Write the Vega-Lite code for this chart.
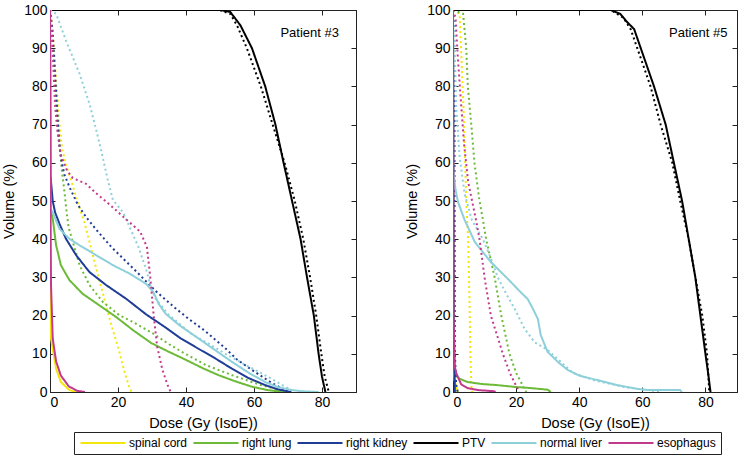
{
  "$schema": "https://vega.github.io/schema/vega-lite/v6.json",
  "padding": {"left": 1, "top": 2, "right": 2, "bottom": 2},
  "background": "white",
  "datasets": {
    "dvh": [
      {"patient": 3, "organ": "spinal cord", "plan": "solid", "dose": 0, "vol": 100},
      {"patient": 3, "organ": "spinal cord", "plan": "solid", "dose": 0.1, "vol": 18},
      {"patient": 3, "organ": "spinal cord", "plan": "solid", "dose": 0.3, "vol": 14},
      {"patient": 3, "organ": "spinal cord", "plan": "solid", "dose": 0.8, "vol": 11.3},
      {"patient": 3, "organ": "spinal cord", "plan": "solid", "dose": 1.8, "vol": 6.1},
      {"patient": 3, "organ": "spinal cord", "plan": "solid", "dose": 3.2, "vol": 2.6},
      {"patient": 3, "organ": "spinal cord", "plan": "solid", "dose": 5.7, "vol": 0.5},
      {"patient": 3, "organ": "spinal cord", "plan": "solid", "dose": 7.7, "vol": 0},
      {"patient": 3, "organ": "spinal cord", "plan": "dotted", "dose": 0, "vol": 100},
      {"patient": 3, "organ": "spinal cord", "plan": "dotted", "dose": 0.5, "vol": 97},
      {"patient": 3, "organ": "spinal cord", "plan": "dotted", "dose": 1, "vol": 92},
      {"patient": 3, "organ": "spinal cord", "plan": "dotted", "dose": 1.5, "vol": 85},
      {"patient": 3, "organ": "spinal cord", "plan": "dotted", "dose": 2.2, "vol": 77},
      {"patient": 3, "organ": "spinal cord", "plan": "dotted", "dose": 2.8, "vol": 70},
      {"patient": 3, "organ": "spinal cord", "plan": "dotted", "dose": 3.5, "vol": 64},
      {"patient": 3, "organ": "spinal cord", "plan": "dotted", "dose": 4.7, "vol": 59.5},
      {"patient": 3, "organ": "spinal cord", "plan": "dotted", "dose": 6.2, "vol": 55.5},
      {"patient": 3, "organ": "spinal cord", "plan": "dotted", "dose": 8, "vol": 50},
      {"patient": 3, "organ": "spinal cord", "plan": "dotted", "dose": 10.1, "vol": 44.5},
      {"patient": 3, "organ": "spinal cord", "plan": "dotted", "dose": 12, "vol": 38},
      {"patient": 3, "organ": "spinal cord", "plan": "dotted", "dose": 13.6, "vol": 32.3},
      {"patient": 3, "organ": "spinal cord", "plan": "dotted", "dose": 15.5, "vol": 26},
      {"patient": 3, "organ": "spinal cord", "plan": "dotted", "dose": 17.5, "vol": 19.2},
      {"patient": 3, "organ": "spinal cord", "plan": "dotted", "dose": 20.4, "vol": 10.5},
      {"patient": 3, "organ": "spinal cord", "plan": "dotted", "dose": 22, "vol": 5},
      {"patient": 3, "organ": "spinal cord", "plan": "dotted", "dose": 23.4, "vol": 1},
      {"patient": 3, "organ": "spinal cord", "plan": "dotted", "dose": 24, "vol": 0},

      {"patient": 3, "organ": "right lung", "plan": "solid", "dose": 0, "vol": 100},
      {"patient": 3, "organ": "right lung", "plan": "solid", "dose": 0.1, "vol": 48},
      {"patient": 3, "organ": "right lung", "plan": "solid", "dose": 0.8, "vol": 45.4},
      {"patient": 3, "organ": "right lung", "plan": "solid", "dose": 1.8, "vol": 38.4},
      {"patient": 3, "organ": "right lung", "plan": "solid", "dose": 3.2, "vol": 33.2},
      {"patient": 3, "organ": "right lung", "plan": "solid", "dose": 5.7, "vol": 29.3},
      {"patient": 3, "organ": "right lung", "plan": "solid", "dose": 9.6, "vol": 25.7},
      {"patient": 3, "organ": "right lung", "plan": "solid", "dose": 14.5, "vol": 22.7},
      {"patient": 3, "organ": "right lung", "plan": "solid", "dose": 19.5, "vol": 19.6},
      {"patient": 3, "organ": "right lung", "plan": "solid", "dose": 24.4, "vol": 16.2},
      {"patient": 3, "organ": "right lung", "plan": "solid", "dose": 29.8, "vol": 12.8},
      {"patient": 3, "organ": "right lung", "plan": "solid", "dose": 35, "vol": 10.5},
      {"patient": 3, "organ": "right lung", "plan": "solid", "dose": 40, "vol": 8.4},
      {"patient": 3, "organ": "right lung", "plan": "solid", "dose": 45, "vol": 6.2},
      {"patient": 3, "organ": "right lung", "plan": "solid", "dose": 49.6, "vol": 4.4},
      {"patient": 3, "organ": "right lung", "plan": "solid", "dose": 54.5, "vol": 2.8},
      {"patient": 3, "organ": "right lung", "plan": "solid", "dose": 59.3, "vol": 1.4},
      {"patient": 3, "organ": "right lung", "plan": "solid", "dose": 64, "vol": 0.5},
      {"patient": 3, "organ": "right lung", "plan": "solid", "dose": 69, "vol": 0},
      {"patient": 3, "organ": "right lung", "plan": "dotted", "dose": 0, "vol": 100},
      {"patient": 3, "organ": "right lung", "plan": "dotted", "dose": 0.5, "vol": 95},
      {"patient": 3, "organ": "right lung", "plan": "dotted", "dose": 1, "vol": 88},
      {"patient": 3, "organ": "right lung", "plan": "dotted", "dose": 1.6, "vol": 80},
      {"patient": 3, "organ": "right lung", "plan": "dotted", "dose": 2.2, "vol": 72},
      {"patient": 3, "organ": "right lung", "plan": "dotted", "dose": 2.8, "vol": 65},
      {"patient": 3, "organ": "right lung", "plan": "dotted", "dose": 3.5, "vol": 58},
      {"patient": 3, "organ": "right lung", "plan": "dotted", "dose": 4.3, "vol": 52},
      {"patient": 3, "organ": "right lung", "plan": "dotted", "dose": 4.9, "vol": 47},
      {"patient": 3, "organ": "right lung", "plan": "dotted", "dose": 5.5, "vol": 43},
      {"patient": 3, "organ": "right lung", "plan": "dotted", "dose": 6.7, "vol": 39.3},
      {"patient": 3, "organ": "right lung", "plan": "dotted", "dose": 8.7, "vol": 33.2},
      {"patient": 3, "organ": "right lung", "plan": "dotted", "dose": 11.6, "vol": 28},
      {"patient": 3, "organ": "right lung", "plan": "dotted", "dose": 15.5, "vol": 23.6},
      {"patient": 3, "organ": "right lung", "plan": "dotted", "dose": 20.4, "vol": 20.1},
      {"patient": 3, "organ": "right lung", "plan": "dotted", "dose": 24, "vol": 18.5},
      {"patient": 3, "organ": "right lung", "plan": "dotted", "dose": 30, "vol": 15.5},
      {"patient": 3, "organ": "right lung", "plan": "dotted", "dose": 35, "vol": 12.5},
      {"patient": 3, "organ": "right lung", "plan": "dotted", "dose": 39.8, "vol": 10},
      {"patient": 3, "organ": "right lung", "plan": "dotted", "dose": 46, "vol": 7},
      {"patient": 3, "organ": "right lung", "plan": "dotted", "dose": 53.6, "vol": 4.4},
      {"patient": 3, "organ": "right lung", "plan": "dotted", "dose": 62, "vol": 1.8},
      {"patient": 3, "organ": "right lung", "plan": "dotted", "dose": 70, "vol": 0},

      {"patient": 3, "organ": "right kidney", "plan": "solid", "dose": 0, "vol": 100},
      {"patient": 3, "organ": "right kidney", "plan": "solid", "dose": 0.1, "vol": 57},
      {"patient": 3, "organ": "right kidney", "plan": "solid", "dose": 0.8, "vol": 50},
      {"patient": 3, "organ": "right kidney", "plan": "solid", "dose": 1.5, "vol": 47},
      {"patient": 3, "organ": "right kidney", "plan": "solid", "dose": 2.8, "vol": 44},
      {"patient": 3, "organ": "right kidney", "plan": "solid", "dose": 4.7, "vol": 40.1},
      {"patient": 3, "organ": "right kidney", "plan": "solid", "dose": 7.7, "vol": 35.8},
      {"patient": 3, "organ": "right kidney", "plan": "solid", "dose": 11.6, "vol": 31.4},
      {"patient": 3, "organ": "right kidney", "plan": "solid", "dose": 16.5, "vol": 28},
      {"patient": 3, "organ": "right kidney", "plan": "solid", "dose": 22.4, "vol": 24.4},
      {"patient": 3, "organ": "right kidney", "plan": "solid", "dose": 28.3, "vol": 20.3},
      {"patient": 3, "organ": "right kidney", "plan": "solid", "dose": 33.8, "vol": 17},
      {"patient": 3, "organ": "right kidney", "plan": "solid", "dose": 38.5, "vol": 14},
      {"patient": 3, "organ": "right kidney", "plan": "solid", "dose": 43.7, "vol": 11.3},
      {"patient": 3, "organ": "right kidney", "plan": "solid", "dose": 48.6, "vol": 8.8},
      {"patient": 3, "organ": "right kidney", "plan": "solid", "dose": 53.5, "vol": 6.1},
      {"patient": 3, "organ": "right kidney", "plan": "solid", "dose": 58.5, "vol": 3.6},
      {"patient": 3, "organ": "right kidney", "plan": "solid", "dose": 63.3, "vol": 1.8},
      {"patient": 3, "organ": "right kidney", "plan": "solid", "dose": 67, "vol": 0.7},
      {"patient": 3, "organ": "right kidney", "plan": "solid", "dose": 71, "vol": 0},
      {"patient": 3, "organ": "right kidney", "plan": "dotted", "dose": 0, "vol": 100},
      {"patient": 3, "organ": "right kidney", "plan": "dotted", "dose": 0.7, "vol": 95},
      {"patient": 3, "organ": "right kidney", "plan": "dotted", "dose": 1.2, "vol": 88},
      {"patient": 3, "organ": "right kidney", "plan": "dotted", "dose": 1.7, "vol": 80},
      {"patient": 3, "organ": "right kidney", "plan": "dotted", "dose": 2.2, "vol": 72},
      {"patient": 3, "organ": "right kidney", "plan": "dotted", "dose": 2.8, "vol": 64},
      {"patient": 3, "organ": "right kidney", "plan": "dotted", "dose": 3.5, "vol": 60},
      {"patient": 3, "organ": "right kidney", "plan": "dotted", "dose": 4.2, "vol": 57},
      {"patient": 3, "organ": "right kidney", "plan": "dotted", "dose": 5.7, "vol": 53.7},
      {"patient": 3, "organ": "right kidney", "plan": "dotted", "dose": 8.2, "vol": 49},
      {"patient": 3, "organ": "right kidney", "plan": "dotted", "dose": 10.6, "vol": 45.8},
      {"patient": 3, "organ": "right kidney", "plan": "dotted", "dose": 13.6, "vol": 42.5},
      {"patient": 3, "organ": "right kidney", "plan": "dotted", "dose": 18, "vol": 38},
      {"patient": 3, "organ": "right kidney", "plan": "dotted", "dose": 22, "vol": 34.5},
      {"patient": 3, "organ": "right kidney", "plan": "dotted", "dose": 26, "vol": 31},
      {"patient": 3, "organ": "right kidney", "plan": "dotted", "dose": 31, "vol": 26.5},
      {"patient": 3, "organ": "right kidney", "plan": "dotted", "dose": 36.8, "vol": 22},
      {"patient": 3, "organ": "right kidney", "plan": "dotted", "dose": 41, "vol": 19},
      {"patient": 3, "organ": "right kidney", "plan": "dotted", "dose": 45.6, "vol": 16},
      {"patient": 3, "organ": "right kidney", "plan": "dotted", "dose": 51.5, "vol": 11.5},
      {"patient": 3, "organ": "right kidney", "plan": "dotted", "dose": 55, "vol": 8.5},
      {"patient": 3, "organ": "right kidney", "plan": "dotted", "dose": 59, "vol": 6},
      {"patient": 3, "organ": "right kidney", "plan": "dotted", "dose": 65, "vol": 2.5},
      {"patient": 3, "organ": "right kidney", "plan": "dotted", "dose": 70, "vol": 0},

      {"patient": 3, "organ": "PTV", "plan": "solid", "dose": 0, "vol": 100},
      {"patient": 3, "organ": "PTV", "plan": "solid", "dose": 50, "vol": 100},
      {"patient": 3, "organ": "PTV", "plan": "solid", "dose": 53, "vol": 99.5},
      {"patient": 3, "organ": "PTV", "plan": "solid", "dose": 56, "vol": 96},
      {"patient": 3, "organ": "PTV", "plan": "solid", "dose": 59.4, "vol": 90},
      {"patient": 3, "organ": "PTV", "plan": "solid", "dose": 63.3, "vol": 80},
      {"patient": 3, "organ": "PTV", "plan": "solid", "dose": 66.3, "vol": 70},
      {"patient": 3, "organ": "PTV", "plan": "solid", "dose": 68.7, "vol": 60},
      {"patient": 3, "organ": "PTV", "plan": "solid", "dose": 71.2, "vol": 50},
      {"patient": 3, "organ": "PTV", "plan": "solid", "dose": 73.7, "vol": 40},
      {"patient": 3, "organ": "PTV", "plan": "solid", "dose": 75.6, "vol": 30},
      {"patient": 3, "organ": "PTV", "plan": "solid", "dose": 77.6, "vol": 20},
      {"patient": 3, "organ": "PTV", "plan": "solid", "dose": 79, "vol": 10},
      {"patient": 3, "organ": "PTV", "plan": "solid", "dose": 80, "vol": 4},
      {"patient": 3, "organ": "PTV", "plan": "solid", "dose": 81, "vol": 0},
      {"patient": 3, "organ": "PTV", "plan": "dotted", "dose": 0, "vol": 100},
      {"patient": 3, "organ": "PTV", "plan": "dotted", "dose": 50, "vol": 100},
      {"patient": 3, "organ": "PTV", "plan": "dotted", "dose": 53, "vol": 99},
      {"patient": 3, "organ": "PTV", "plan": "dotted", "dose": 55, "vol": 96},
      {"patient": 3, "organ": "PTV", "plan": "dotted", "dose": 57.9, "vol": 90},
      {"patient": 3, "organ": "PTV", "plan": "dotted", "dose": 62, "vol": 80},
      {"patient": 3, "organ": "PTV", "plan": "dotted", "dose": 65.5, "vol": 70},
      {"patient": 3, "organ": "PTV", "plan": "dotted", "dose": 69, "vol": 60},
      {"patient": 3, "organ": "PTV", "plan": "dotted", "dose": 72, "vol": 50},
      {"patient": 3, "organ": "PTV", "plan": "dotted", "dose": 74.5, "vol": 40},
      {"patient": 3, "organ": "PTV", "plan": "dotted", "dose": 76.5, "vol": 30},
      {"patient": 3, "organ": "PTV", "plan": "dotted", "dose": 78.3, "vol": 20},
      {"patient": 3, "organ": "PTV", "plan": "dotted", "dose": 79.8, "vol": 10},
      {"patient": 3, "organ": "PTV", "plan": "dotted", "dose": 80.8, "vol": 4},
      {"patient": 3, "organ": "PTV", "plan": "dotted", "dose": 82, "vol": 0},

      {"patient": 3, "organ": "normal liver", "plan": "solid", "dose": 0, "vol": 100},
      {"patient": 3, "organ": "normal liver", "plan": "solid", "dose": 0.1, "vol": 48},
      {"patient": 3, "organ": "normal liver", "plan": "solid", "dose": 0.8, "vol": 47},
      {"patient": 3, "organ": "normal liver", "plan": "solid", "dose": 2.8, "vol": 42.7},
      {"patient": 3, "organ": "normal liver", "plan": "solid", "dose": 5.7, "vol": 40.1},
      {"patient": 3, "organ": "normal liver", "plan": "solid", "dose": 8.7, "vol": 38.4},
      {"patient": 3, "organ": "normal liver", "plan": "solid", "dose": 13.6, "vol": 35.8},
      {"patient": 3, "organ": "normal liver", "plan": "solid", "dose": 18.5, "vol": 33.2},
      {"patient": 3, "organ": "normal liver", "plan": "solid", "dose": 23.4, "vol": 31},
      {"patient": 3, "organ": "normal liver", "plan": "solid", "dose": 28.3, "vol": 28.3},
      {"patient": 3, "organ": "normal liver", "plan": "solid", "dose": 30.5, "vol": 26},
      {"patient": 3, "organ": "normal liver", "plan": "solid", "dose": 32, "vol": 23},
      {"patient": 3, "organ": "normal liver", "plan": "solid", "dose": 34, "vol": 20.5},
      {"patient": 3, "organ": "normal liver", "plan": "solid", "dose": 38, "vol": 17.5},
      {"patient": 3, "organ": "normal liver", "plan": "solid", "dose": 43.7, "vol": 14},
      {"patient": 3, "organ": "normal liver", "plan": "solid", "dose": 48.5, "vol": 11},
      {"patient": 3, "organ": "normal liver", "plan": "solid", "dose": 53.5, "vol": 7.9},
      {"patient": 3, "organ": "normal liver", "plan": "solid", "dose": 58.5, "vol": 5},
      {"patient": 3, "organ": "normal liver", "plan": "solid", "dose": 63.3, "vol": 2.6},
      {"patient": 3, "organ": "normal liver", "plan": "solid", "dose": 67, "vol": 1.3},
      {"patient": 3, "organ": "normal liver", "plan": "solid", "dose": 71.2, "vol": 0.5},
      {"patient": 3, "organ": "normal liver", "plan": "solid", "dose": 74, "vol": 0.2},
      {"patient": 3, "organ": "normal liver", "plan": "solid", "dose": 79, "vol": 0},
      {"patient": 3, "organ": "normal liver", "plan": "dotted", "dose": 0, "vol": 100},
      {"patient": 3, "organ": "normal liver", "plan": "dotted", "dose": 1.8, "vol": 99},
      {"patient": 3, "organ": "normal liver", "plan": "dotted", "dose": 4.7, "vol": 92},
      {"patient": 3, "organ": "normal liver", "plan": "dotted", "dose": 8.7, "vol": 83.3},
      {"patient": 3, "organ": "normal liver", "plan": "dotted", "dose": 11.6, "vol": 75.5},
      {"patient": 3, "organ": "normal liver", "plan": "dotted", "dose": 13.6, "vol": 68.6},
      {"patient": 3, "organ": "normal liver", "plan": "dotted", "dose": 15, "vol": 63.4},
      {"patient": 3, "organ": "normal liver", "plan": "dotted", "dose": 17, "vol": 55.5},
      {"patient": 3, "organ": "normal liver", "plan": "dotted", "dose": 18.5, "vol": 50.3},
      {"patient": 3, "organ": "normal liver", "plan": "dotted", "dose": 21.5, "vol": 47},
      {"patient": 3, "organ": "normal liver", "plan": "dotted", "dose": 24, "vol": 42},
      {"patient": 3, "organ": "normal liver", "plan": "dotted", "dose": 26, "vol": 38},
      {"patient": 3, "organ": "normal liver", "plan": "dotted", "dose": 28.3, "vol": 32},
      {"patient": 3, "organ": "normal liver", "plan": "dotted", "dose": 29.5, "vol": 28},
      {"patient": 3, "organ": "normal liver", "plan": "dotted", "dose": 31, "vol": 24.5},
      {"patient": 3, "organ": "normal liver", "plan": "dotted", "dose": 34.8, "vol": 20.3},
      {"patient": 3, "organ": "normal liver", "plan": "dotted", "dose": 41.6, "vol": 15.2},
      {"patient": 3, "organ": "normal liver", "plan": "dotted", "dose": 46.5, "vol": 12.7},
      {"patient": 3, "organ": "normal liver", "plan": "dotted", "dose": 51.6, "vol": 10},
      {"patient": 3, "organ": "normal liver", "plan": "dotted", "dose": 57, "vol": 7.3},
      {"patient": 3, "organ": "normal liver", "plan": "dotted", "dose": 62, "vol": 5},
      {"patient": 3, "organ": "normal liver", "plan": "dotted", "dose": 67, "vol": 2.5},
      {"patient": 3, "organ": "normal liver", "plan": "dotted", "dose": 72, "vol": 0},

      {"patient": 3, "organ": "esophagus", "plan": "solid", "dose": 0, "vol": 100},
      {"patient": 3, "organ": "esophagus", "plan": "solid", "dose": 0.2, "vol": 40},
      {"patient": 3, "organ": "esophagus", "plan": "solid", "dose": 0.3, "vol": 28},
      {"patient": 3, "organ": "esophagus", "plan": "solid", "dose": 0.8, "vol": 14},
      {"patient": 3, "organ": "esophagus", "plan": "solid", "dose": 1.8, "vol": 8},
      {"patient": 3, "organ": "esophagus", "plan": "solid", "dose": 3.2, "vol": 4.3},
      {"patient": 3, "organ": "esophagus", "plan": "solid", "dose": 5.5, "vol": 1.5},
      {"patient": 3, "organ": "esophagus", "plan": "solid", "dose": 8, "vol": 0.3},
      {"patient": 3, "organ": "esophagus", "plan": "solid", "dose": 10.3, "vol": 0},
      {"patient": 3, "organ": "esophagus", "plan": "dotted", "dose": 0, "vol": 100},
      {"patient": 3, "organ": "esophagus", "plan": "dotted", "dose": 0.5, "vol": 95},
      {"patient": 3, "organ": "esophagus", "plan": "dotted", "dose": 1, "vol": 85},
      {"patient": 3, "organ": "esophagus", "plan": "dotted", "dose": 1.5, "vol": 75},
      {"patient": 3, "organ": "esophagus", "plan": "dotted", "dose": 2.2, "vol": 68},
      {"patient": 3, "organ": "esophagus", "plan": "dotted", "dose": 3.2, "vol": 62},
      {"patient": 3, "organ": "esophagus", "plan": "dotted", "dose": 5, "vol": 58},
      {"patient": 3, "organ": "esophagus", "plan": "dotted", "dose": 6.7, "vol": 56},
      {"patient": 3, "organ": "esophagus", "plan": "dotted", "dose": 10.6, "vol": 54.5},
      {"patient": 3, "organ": "esophagus", "plan": "dotted", "dose": 13.6, "vol": 52},
      {"patient": 3, "organ": "esophagus", "plan": "dotted", "dose": 17, "vol": 49.5},
      {"patient": 3, "organ": "esophagus", "plan": "dotted", "dose": 22, "vol": 45.5},
      {"patient": 3, "organ": "esophagus", "plan": "dotted", "dose": 26.5, "vol": 42},
      {"patient": 3, "organ": "esophagus", "plan": "dotted", "dose": 28.5, "vol": 38},
      {"patient": 3, "organ": "esophagus", "plan": "dotted", "dose": 29.5, "vol": 30},
      {"patient": 3, "organ": "esophagus", "plan": "dotted", "dose": 30.5, "vol": 20},
      {"patient": 3, "organ": "esophagus", "plan": "dotted", "dose": 31.5, "vol": 12},
      {"patient": 3, "organ": "esophagus", "plan": "dotted", "dose": 33, "vol": 6},
      {"patient": 3, "organ": "esophagus", "plan": "dotted", "dose": 34.5, "vol": 2},
      {"patient": 3, "organ": "esophagus", "plan": "dotted", "dose": 35.5, "vol": 0},

      {"patient": 5, "organ": "spinal cord", "plan": "solid", "dose": 0, "vol": 100},
      {"patient": 5, "organ": "spinal cord", "plan": "solid", "dose": 0.1, "vol": 8},
      {"patient": 5, "organ": "spinal cord", "plan": "solid", "dose": 0.5, "vol": 3},
      {"patient": 5, "organ": "spinal cord", "plan": "solid", "dose": 1.5, "vol": 0},
      {"patient": 5, "organ": "spinal cord", "plan": "dotted", "dose": 0, "vol": 100},
      {"patient": 5, "organ": "spinal cord", "plan": "dotted", "dose": 2.1, "vol": 99},
      {"patient": 5, "organ": "spinal cord", "plan": "dotted", "dose": 2.8, "vol": 85},
      {"patient": 5, "organ": "spinal cord", "plan": "dotted", "dose": 3.3, "vol": 75},
      {"patient": 5, "organ": "spinal cord", "plan": "dotted", "dose": 3.8, "vol": 62},
      {"patient": 5, "organ": "spinal cord", "plan": "dotted", "dose": 4.2, "vol": 50},
      {"patient": 5, "organ": "spinal cord", "plan": "dotted", "dose": 4.8, "vol": 40},
      {"patient": 5, "organ": "spinal cord", "plan": "dotted", "dose": 5.2, "vol": 25},
      {"patient": 5, "organ": "spinal cord", "plan": "dotted", "dose": 5.5, "vol": 10},
      {"patient": 5, "organ": "spinal cord", "plan": "dotted", "dose": 5.8, "vol": 2},
      {"patient": 5, "organ": "spinal cord", "plan": "dotted", "dose": 6, "vol": 0},

      {"patient": 5, "organ": "right lung", "plan": "solid", "dose": 0, "vol": 100},
      {"patient": 5, "organ": "right lung", "plan": "solid", "dose": 0.2, "vol": 6},
      {"patient": 5, "organ": "right lung", "plan": "solid", "dose": 0.6, "vol": 4.5},
      {"patient": 5, "organ": "right lung", "plan": "solid", "dose": 2, "vol": 3.5},
      {"patient": 5, "organ": "right lung", "plan": "solid", "dose": 4.7, "vol": 2.6},
      {"patient": 5, "organ": "right lung", "plan": "solid", "dose": 9, "vol": 2.1},
      {"patient": 5, "organ": "right lung", "plan": "solid", "dose": 14, "vol": 1.8},
      {"patient": 5, "organ": "right lung", "plan": "solid", "dose": 20, "vol": 1.3},
      {"patient": 5, "organ": "right lung", "plan": "solid", "dose": 25, "vol": 1},
      {"patient": 5, "organ": "right lung", "plan": "solid", "dose": 30, "vol": 0.6},
      {"patient": 5, "organ": "right lung", "plan": "solid", "dose": 31, "vol": 0},
      {"patient": 5, "organ": "right lung", "plan": "dotted", "dose": 0, "vol": 100},
      {"patient": 5, "organ": "right lung", "plan": "dotted", "dose": 3.2, "vol": 99},
      {"patient": 5, "organ": "right lung", "plan": "dotted", "dose": 4.2, "vol": 90},
      {"patient": 5, "organ": "right lung", "plan": "dotted", "dose": 4.7, "vol": 80},
      {"patient": 5, "organ": "right lung", "plan": "dotted", "dose": 5.8, "vol": 70},
      {"patient": 5, "organ": "right lung", "plan": "dotted", "dose": 6.8, "vol": 60},
      {"patient": 5, "organ": "right lung", "plan": "dotted", "dose": 8.4, "vol": 50},
      {"patient": 5, "organ": "right lung", "plan": "dotted", "dose": 9.5, "vol": 45},
      {"patient": 5, "organ": "right lung", "plan": "dotted", "dose": 10.5, "vol": 40},
      {"patient": 5, "organ": "right lung", "plan": "dotted", "dose": 13.2, "vol": 30},
      {"patient": 5, "organ": "right lung", "plan": "dotted", "dose": 15.3, "vol": 20},
      {"patient": 5, "organ": "right lung", "plan": "dotted", "dose": 17.9, "vol": 10},
      {"patient": 5, "organ": "right lung", "plan": "dotted", "dose": 20, "vol": 5},
      {"patient": 5, "organ": "right lung", "plan": "dotted", "dose": 23.2, "vol": 0},

      {"patient": 5, "organ": "right kidney", "plan": "solid", "dose": 0, "vol": 100},
      {"patient": 5, "organ": "right kidney", "plan": "solid", "dose": 0.2, "vol": 20},
      {"patient": 5, "organ": "right kidney", "plan": "solid", "dose": 0.6, "vol": 0},
      {"patient": 5, "organ": "right kidney", "plan": "dotted", "dose": 0, "vol": 100},
      {"patient": 5, "organ": "right kidney", "plan": "dotted", "dose": 0.4, "vol": 95},
      {"patient": 5, "organ": "right kidney", "plan": "dotted", "dose": 0.5, "vol": 50},
      {"patient": 5, "organ": "right kidney", "plan": "dotted", "dose": 0.6, "vol": 10},
      {"patient": 5, "organ": "right kidney", "plan": "dotted", "dose": 1, "vol": 2},
      {"patient": 5, "organ": "right kidney", "plan": "dotted", "dose": 1.5, "vol": 0},

      {"patient": 5, "organ": "PTV", "plan": "solid", "dose": 0, "vol": 100},
      {"patient": 5, "organ": "PTV", "plan": "solid", "dose": 50, "vol": 100},
      {"patient": 5, "organ": "PTV", "plan": "solid", "dose": 53, "vol": 99},
      {"patient": 5, "organ": "PTV", "plan": "solid", "dose": 55, "vol": 97},
      {"patient": 5, "organ": "PTV", "plan": "solid", "dose": 57.4, "vol": 95},
      {"patient": 5, "organ": "PTV", "plan": "solid", "dose": 59.5, "vol": 90},
      {"patient": 5, "organ": "PTV", "plan": "solid", "dose": 63.7, "vol": 80},
      {"patient": 5, "organ": "PTV", "plan": "solid", "dose": 67.4, "vol": 70},
      {"patient": 5, "organ": "PTV", "plan": "solid", "dose": 70, "vol": 60},
      {"patient": 5, "organ": "PTV", "plan": "solid", "dose": 72.6, "vol": 50},
      {"patient": 5, "organ": "PTV", "plan": "solid", "dose": 74.7, "vol": 40},
      {"patient": 5, "organ": "PTV", "plan": "solid", "dose": 76.8, "vol": 30},
      {"patient": 5, "organ": "PTV", "plan": "solid", "dose": 78.4, "vol": 20},
      {"patient": 5, "organ": "PTV", "plan": "solid", "dose": 80, "vol": 10},
      {"patient": 5, "organ": "PTV", "plan": "solid", "dose": 81, "vol": 4},
      {"patient": 5, "organ": "PTV", "plan": "solid", "dose": 81.6, "vol": 0},
      {"patient": 5, "organ": "PTV", "plan": "dotted", "dose": 0, "vol": 100},
      {"patient": 5, "organ": "PTV", "plan": "dotted", "dose": 50, "vol": 100},
      {"patient": 5, "organ": "PTV", "plan": "dotted", "dose": 54, "vol": 98},
      {"patient": 5, "organ": "PTV", "plan": "dotted", "dose": 56.3, "vol": 95},
      {"patient": 5, "organ": "PTV", "plan": "dotted", "dose": 58.4, "vol": 90},
      {"patient": 5, "organ": "PTV", "plan": "dotted", "dose": 62.6, "vol": 80},
      {"patient": 5, "organ": "PTV", "plan": "dotted", "dose": 65.8, "vol": 70},
      {"patient": 5, "organ": "PTV", "plan": "dotted", "dose": 69.5, "vol": 60},
      {"patient": 5, "organ": "PTV", "plan": "dotted", "dose": 72, "vol": 50},
      {"patient": 5, "organ": "PTV", "plan": "dotted", "dose": 74.7, "vol": 40},
      {"patient": 5, "organ": "PTV", "plan": "dotted", "dose": 76.8, "vol": 30},
      {"patient": 5, "organ": "PTV", "plan": "dotted", "dose": 79, "vol": 20},
      {"patient": 5, "organ": "PTV", "plan": "dotted", "dose": 80.5, "vol": 10},
      {"patient": 5, "organ": "PTV", "plan": "dotted", "dose": 81, "vol": 3},
      {"patient": 5, "organ": "PTV", "plan": "dotted", "dose": 81.2, "vol": 0},

      {"patient": 5, "organ": "normal liver", "plan": "solid", "dose": 0, "vol": 100},
      {"patient": 5, "organ": "normal liver", "plan": "solid", "dose": 0.1, "vol": 58},
      {"patient": 5, "organ": "normal liver", "plan": "solid", "dose": 0.8, "vol": 53},
      {"patient": 5, "organ": "normal liver", "plan": "solid", "dose": 1.6, "vol": 49.7},
      {"patient": 5, "organ": "normal liver", "plan": "solid", "dose": 3.7, "vol": 45},
      {"patient": 5, "organ": "normal liver", "plan": "solid", "dose": 6.9, "vol": 39.3},
      {"patient": 5, "organ": "normal liver", "plan": "solid", "dose": 12, "vol": 34},
      {"patient": 5, "organ": "normal liver", "plan": "solid", "dose": 17.4, "vol": 29.6},
      {"patient": 5, "organ": "normal liver", "plan": "solid", "dose": 21, "vol": 26.5},
      {"patient": 5, "organ": "normal liver", "plan": "solid", "dose": 23.7, "vol": 24.3},
      {"patient": 5, "organ": "normal liver", "plan": "solid", "dose": 25.5, "vol": 21.5},
      {"patient": 5, "organ": "normal liver", "plan": "solid", "dose": 26.9, "vol": 19.1},
      {"patient": 5, "organ": "normal liver", "plan": "solid", "dose": 27.8, "vol": 14.9},
      {"patient": 5, "organ": "normal liver", "plan": "solid", "dose": 30, "vol": 10.5},
      {"patient": 5, "organ": "normal liver", "plan": "solid", "dose": 33.2, "vol": 7.9},
      {"patient": 5, "organ": "normal liver", "plan": "solid", "dose": 36.3, "vol": 5.8},
      {"patient": 5, "organ": "normal liver", "plan": "solid", "dose": 40, "vol": 4.3},
      {"patient": 5, "organ": "normal liver", "plan": "solid", "dose": 45.8, "vol": 3.1},
      {"patient": 5, "organ": "normal liver", "plan": "solid", "dose": 52, "vol": 1.8},
      {"patient": 5, "organ": "normal liver", "plan": "solid", "dose": 58.5, "vol": 0.8},
      {"patient": 5, "organ": "normal liver", "plan": "solid", "dose": 62, "vol": 0.5},
      {"patient": 5, "organ": "normal liver", "plan": "solid", "dose": 72, "vol": 0.5},
      {"patient": 5, "organ": "normal liver", "plan": "solid", "dose": 72.5, "vol": 0},
      {"patient": 5, "organ": "normal liver", "plan": "dotted", "dose": 0, "vol": 100},
      {"patient": 5, "organ": "normal liver", "plan": "dotted", "dose": 0.3, "vol": 95},
      {"patient": 5, "organ": "normal liver", "plan": "dotted", "dose": 0.7, "vol": 85},
      {"patient": 5, "organ": "normal liver", "plan": "dotted", "dose": 1, "vol": 75},
      {"patient": 5, "organ": "normal liver", "plan": "dotted", "dose": 2.1, "vol": 61.5},
      {"patient": 5, "organ": "normal liver", "plan": "dotted", "dose": 3.7, "vol": 51.8},
      {"patient": 5, "organ": "normal liver", "plan": "dotted", "dose": 6, "vol": 45},
      {"patient": 5, "organ": "normal liver", "plan": "dotted", "dose": 9.5, "vol": 40},
      {"patient": 5, "organ": "normal liver", "plan": "dotted", "dose": 12, "vol": 35},
      {"patient": 5, "organ": "normal liver", "plan": "dotted", "dose": 14.2, "vol": 30},
      {"patient": 5, "organ": "normal liver", "plan": "dotted", "dose": 17, "vol": 25.5},
      {"patient": 5, "organ": "normal liver", "plan": "dotted", "dose": 19.6, "vol": 21.7},
      {"patient": 5, "organ": "normal liver", "plan": "dotted", "dose": 22.7, "vol": 16.5},
      {"patient": 5, "organ": "normal liver", "plan": "dotted", "dose": 25.9, "vol": 13},
      {"patient": 5, "organ": "normal liver", "plan": "dotted", "dose": 30, "vol": 11},
      {"patient": 5, "organ": "normal liver", "plan": "dotted", "dose": 34, "vol": 8},
      {"patient": 5, "organ": "normal liver", "plan": "dotted", "dose": 38, "vol": 5},
      {"patient": 5, "organ": "normal liver", "plan": "dotted", "dose": 45, "vol": 3},
      {"patient": 5, "organ": "normal liver", "plan": "dotted", "dose": 55, "vol": 1.2},
      {"patient": 5, "organ": "normal liver", "plan": "dotted", "dose": 62, "vol": 0.5},
      {"patient": 5, "organ": "normal liver", "plan": "dotted", "dose": 66, "vol": 0},

      {"patient": 5, "organ": "esophagus", "plan": "solid", "dose": 0, "vol": 100},
      {"patient": 5, "organ": "esophagus", "plan": "solid", "dose": 0.2, "vol": 20},
      {"patient": 5, "organ": "esophagus", "plan": "solid", "dose": 0.5, "vol": 7},
      {"patient": 5, "organ": "esophagus", "plan": "solid", "dose": 1, "vol": 5},
      {"patient": 5, "organ": "esophagus", "plan": "solid", "dose": 2.6, "vol": 2},
      {"patient": 5, "organ": "esophagus", "plan": "solid", "dose": 4.7, "vol": 1},
      {"patient": 5, "organ": "esophagus", "plan": "solid", "dose": 8, "vol": 0.5},
      {"patient": 5, "organ": "esophagus", "plan": "solid", "dose": 13, "vol": 0.2},
      {"patient": 5, "organ": "esophagus", "plan": "solid", "dose": 13.5, "vol": 0},
      {"patient": 5, "organ": "esophagus", "plan": "dotted", "dose": 0, "vol": 100},
      {"patient": 5, "organ": "esophagus", "plan": "dotted", "dose": 0.8, "vol": 98},
      {"patient": 5, "organ": "esophagus", "plan": "dotted", "dose": 1.5, "vol": 88},
      {"patient": 5, "organ": "esophagus", "plan": "dotted", "dose": 2.6, "vol": 75},
      {"patient": 5, "organ": "esophagus", "plan": "dotted", "dose": 3.5, "vol": 65},
      {"patient": 5, "organ": "esophagus", "plan": "dotted", "dose": 4.8, "vol": 55},
      {"patient": 5, "organ": "esophagus", "plan": "dotted", "dose": 6.3, "vol": 49},
      {"patient": 5, "organ": "esophagus", "plan": "dotted", "dose": 7.3, "vol": 45},
      {"patient": 5, "organ": "esophagus", "plan": "dotted", "dose": 8.4, "vol": 40},
      {"patient": 5, "organ": "esophagus", "plan": "dotted", "dose": 10, "vol": 30},
      {"patient": 5, "organ": "esophagus", "plan": "dotted", "dose": 12, "vol": 20},
      {"patient": 5, "organ": "esophagus", "plan": "dotted", "dose": 15.8, "vol": 10},
      {"patient": 5, "organ": "esophagus", "plan": "dotted", "dose": 18, "vol": 5},
      {"patient": 5, "organ": "esophagus", "plan": "dotted", "dose": 21, "vol": 0}
    ]
  },
  "hconcat": [
    {
      "width": 306,
      "height": 382,
      "layer": [
        {
          "data": {"name": "dvh"},
          "transform": [{"filter": "datum.patient == 3"}],
          "mark": {"type": "line", "strokeWidth": 2, "clip": true},
          "encoding": {
            "x": {"field": "dose", "type": "quantitative", "scale": {"domain": [0, 90], "nice": false},
                  "axis": {"orient": "bottom", "values": [0, 20, 40, 60, 80], "title": "Dose (Gy (IsoE))"}},
            "y": {"field": "vol", "type": "quantitative", "scale": {"domain": [0, 100], "nice": false},
                  "axis": {"orient": "left", "values": [0, 10, 20, 30, 40, 50, 60, 70, 80, 90, 100], "title": "Volume (%)"}},
            "color": {"field": "organ", "type": "nominal",
                      "scale": {"domain": ["spinal cord", "right lung", "right kidney", "PTV", "normal liver", "esophagus"],
                                "range": ["#f3e60a", "#6cba38", "#1f3c96", "#000000", "#8dd0da", "#c23a8b"]},
                      "legend": {"orient": "none", "legendX": 24, "legendY": 422, "direction": "horizontal", "columns": 6,
                                 "title": null, "symbolType": "M-5,0H5", "symbolSize": 81, "symbolStrokeWidth": 2,
                                 "symbolOffset": 18, "labelOffset": 20,
                                 "strokeColor": "#222222", "padding": 5, "columnPadding": 1, "labelFontSize": 12,
                                 "labelFont": "Liberation Sans", "labelColor": "black", "fillColor": "white"}},
            "strokeDash": {"field": "plan", "type": "nominal",
                           "scale": {"domain": ["solid", "dotted"], "range": [[1, 0], [2, 3]]}, "legend": null},
            "order": {"value": null}
          }
        },
        {
          "data": {"values": [{"label": "Patient #3", "x": 85, "y": 94}]},
          "mark": {"type": "text", "align": "right", "baseline": "middle", "fontSize": 13, "font": "Liberation Sans", "color": "black"},
          "encoding": {
            "x": {"field": "x", "type": "quantitative", "scale": {"domain": [0, 90], "nice": false},
                  "axis": {"orient": "top", "values": [0, 20, 40, 60, 80], "labels": false, "title": null}},
            "y": {"field": "y", "type": "quantitative", "scale": {"domain": [0, 100], "nice": false},
                  "axis": {"orient": "right", "values": [0, 10, 20, 30, 40, 50, 60, 70, 80, 90, 100], "labels": false, "title": null}},
            "text": {"field": "label"}
          }
        }
      ],
      "resolve": {"axis": {"x": "independent", "y": "independent"}}
    },
    {
      "width": 284,
      "height": 382,
      "layer": [
        {
          "data": {"name": "dvh"},
          "transform": [{"filter": "datum.patient == 5"}],
          "mark": {"type": "line", "strokeWidth": 2, "clip": true},
          "encoding": {
            "x": {"field": "dose", "type": "quantitative", "scale": {"domain": [0, 90], "nice": false},
                  "axis": {"orient": "bottom", "values": [0, 20, 40, 60, 80], "title": "Dose (Gy (IsoE))"}},
            "y": {"field": "vol", "type": "quantitative", "scale": {"domain": [0, 100], "nice": false},
                  "axis": {"orient": "left", "values": [0, 10, 20, 30, 40, 50, 60, 70, 80, 90, 100], "title": "Volume (%)"}},
            "color": {"field": "organ", "type": "nominal",
                      "scale": {"domain": ["spinal cord", "right lung", "right kidney", "PTV", "normal liver", "esophagus"],
                                "range": ["#f3e60a", "#6cba38", "#1f3c96", "#000000", "#8dd0da", "#c23a8b"]},
                      "legend": null},
            "strokeDash": {"field": "plan", "type": "nominal",
                           "scale": {"domain": ["solid", "dotted"], "range": [[1, 0], [2, 3]]}, "legend": null},
            "order": {"value": null}
          }
        },
        {
          "data": {"values": [{"label": "Patient #5", "x": 87, "y": 94}]},
          "mark": {"type": "text", "align": "right", "baseline": "middle", "fontSize": 13, "font": "Liberation Sans", "color": "black"},
          "encoding": {
            "x": {"field": "x", "type": "quantitative", "scale": {"domain": [0, 90], "nice": false},
                  "axis": {"orient": "top", "values": [0, 20, 40, 60, 80], "labels": false, "title": null}},
            "y": {"field": "y", "type": "quantitative", "scale": {"domain": [0, 100], "nice": false},
                  "axis": {"orient": "right", "values": [0, 10, 20, 30, 40, 50, 60, 70, 80, 90, 100], "labels": false, "title": null}},
            "text": {"field": "label"}
          }
        }
      ],
      "resolve": {"axis": {"x": "independent", "y": "independent"}}
    }
  ],
  "spacing": 47,
  "config": {
    "font": "Liberation Sans",
    "view": {"stroke": "#222222", "strokeWidth": 1},
    "axis": {
      "grid": false,
      "domainColor": "#222222",
      "tickColor": "#222222",
      "tickSize": -5,
      "labelPadding": 8,
      "labelFontSize": 14,
      "labelColor": "black",
      "titleFontSize": 14.5,
      "titleFontWeight": "normal",
      "titleColor": "black",
      "titlePadding": 7
    }
  }
}
